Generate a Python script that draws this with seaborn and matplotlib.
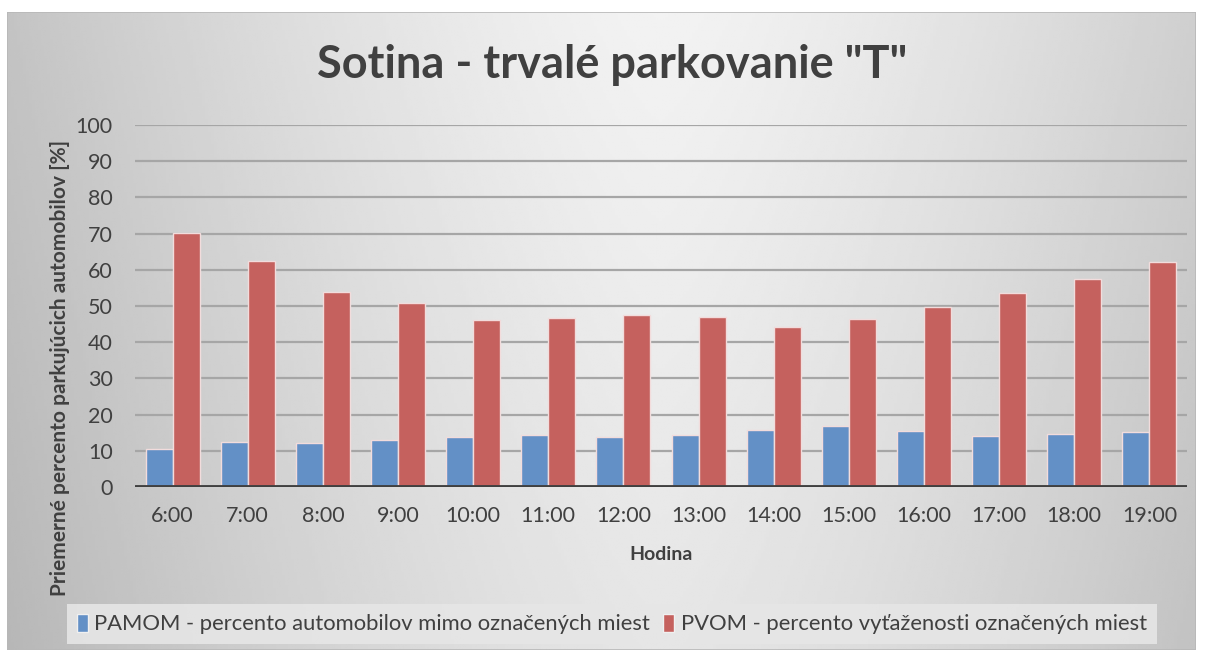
"""
plot.py
Sotina - trvalé parkovanie "T" : zoskupený stĺpcový graf podľa hodiny
"""

import numpy as np
import pandas as pd
import matplotlib
matplotlib.use("Agg")
import matplotlib.pyplot as plt
import seaborn as sns

# ============== DATA ==============
HOURS = ["6:00", "7:00", "8:00", "9:00", "10:00", "11:00", "12:00",
         "13:00", "14:00", "15:00", "16:00", "17:00", "18:00", "19:00"]

# percento automobilov mimo označených miest
PAMOM = [10.5, 12.4, 12.2, 13.0, 13.8, 14.4, 13.8,
         14.4, 15.7, 16.9, 15.6, 14.1, 14.6, 15.2]

# percento vyťaženosti označených miest
PVOM = [70.1, 62.3, 53.9, 50.8, 46.1, 46.7, 47.5,
        47.0, 44.3, 46.4, 49.7, 53.6, 57.4, 62.2]

SERIES = ["PAMOM - percento automobilov mimo označených miest",
          "PVOM - percento vyťaženosti označených miest"]
COLORS = ["#6390c6", "#c5615e"]
# ==================================

W, H = 1206, 656
DPI = 100

sns.set_theme(style="white")
plt.rcParams["font.family"] = ["Lato", "Open Sans", "DejaVu Sans"]
TEXT = "#404040"

df = pd.DataFrame({
    "Hodina": HOURS * 2,
    "value": PAMOM + PVOM,
    "series": [SERIES[0]] * len(HOURS) + [SERIES[1]] * len(HOURS),
})

fig = plt.figure(figsize=(W / DPI, H / DPI), dpi=DPI)
fig.patch.set_facecolor("white")

# pozadie grafu - sivý prechod (tmavšie okraje, svetlý stred)
bg = fig.add_axes([7 / W, 1 - 650 / H, (1196 - 7) / W, (650 - 12) / H])
xx = np.linspace(-1, 1, 400)
yy = np.linspace(0, 1, 200)
X, Y = np.meshgrid(xx, yy)
shade = 0.95 - 0.16 * np.abs(X - 0.1) ** 1.4 - 0.05 * Y
bg.imshow(shade, cmap="gray", vmin=0, vmax=1, aspect="auto",
          extent=[0, 1, 0, 1], origin="upper")
bg.set_axis_off()
bg.add_patch(plt.Rectangle((0, 0), 1, 1, transform=bg.transAxes,
                           fill=False, edgecolor="#b8b8b8", lw=1.2))

# plocha grafu
x0, x1 = 135, 1187
y0, y1 = 487, 125
ax = fig.add_axes([x0 / W, 1 - y0 / H, (x1 - x0) / W, (y0 - y1) / H])
ax.patch.set_alpha(0)

sns.barplot(data=df, x="Hodina", y="value", hue="series",
            palette=COLORS, saturation=1, width=0.72, gap=0, ax=ax,
            edgecolor="#f2dcdc", linewidth=1.0,
            legend=False, zorder=3)

ax.set_ylim(0, 100)
ax.set_yticks(range(0, 101, 10))
ax.yaxis.grid(True, color="#a6a6a6", lw=1.6, zorder=0)
ax.set_axisbelow(True)
ax.set_xlim(-0.5, len(HOURS) - 0.5)
for name, s in ax.spines.items():
    s.set_visible(False)
ax.axhline(0, color="#404040", lw=3.5, zorder=4)

ax.tick_params(axis="y", labelsize=15.5, labelcolor=TEXT, length=0, pad=16)
ax.tick_params(axis="x", labelsize=15.5, labelcolor=TEXT, length=0, pad=14)
ax.set_xlabel("Hodina", fontsize=14, fontweight="bold", color=TEXT, labelpad=14)
ax.set_ylabel("")

fig.text(612 / W, 1 - 65 / H, 'Sotina - trvalé parkovanie "T"',
         ha="center", va="center", fontsize=32.5, fontweight="bold", color=TEXT)
fig.text(60 / W, 1 - 368 / H, "Priemerné percento parkujúcich automobilov [%]",
         ha="center", va="center", rotation=90, fontsize=15,
         fontweight="bold", color=TEXT)

# legenda
handles = [plt.Rectangle((0, 0), 1, 1, facecolor=c, edgecolor="#f0f0f0")
           for c in COLORS]
leg = fig.legend(handles, SERIES, loc="center", ncol=2,
                 bbox_to_anchor=(612 / W, 1 - 624 / H),
                 fontsize=15.8, frameon=True, handlelength=0.5,
                 handleheight=0.9, handletextpad=0.3, columnspacing=0.6,
                 borderpad=0.45, labelcolor=TEXT)
leg.get_frame().set_facecolor("#e6e6e6")
leg.get_frame().set_edgecolor("none")
leg.get_frame().set_alpha(0.9)
leg.get_frame().set_boxstyle("square", pad=0)

fig.savefig("out.png", dpi=DPI)
